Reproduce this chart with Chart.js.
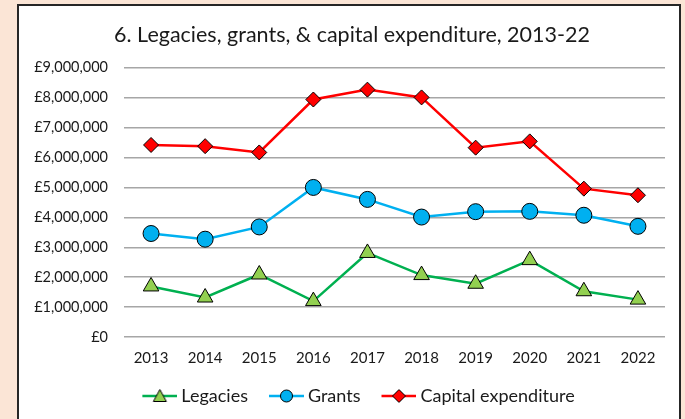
<!DOCTYPE html>
<html>
<head>
<meta charset="utf-8">
<script src="https://cdn.jsdelivr.net/npm/chart.js@4/dist/chart.umd.min.js"></script>
<style>
  html, body { margin: 0; padding: 0; width: 685px; height: 419px; overflow: hidden; background: #FBE5D6; }
  #panel { position: absolute; left: 17px; top: 4px; width: 664px; height: 440px; box-sizing: border-box; border: 2px solid #262626; background: #ffffff; }
  #wrap { position: absolute; left: 0; top: 0; width: 685px; height: 419px; }
</style>
</head>
<body>
<div id="panel"></div>
<div id="wrap"><canvas id="c" width="685" height="419"></canvas></div>
<script>
const years = ['2013','2014','2015','2016','2017','2018','2019','2020','2021','2022'];
const legacies = [1690000, 1320000, 2090000, 1200000, 2810000, 2070000, 1780000, 2570000, 1530000, 1250000];
const grants = [3460000, 3270000, 3680000, 5000000, 4600000, 4010000, 4190000, 4200000, 4070000, 3700000];
const capital = [6420000, 6380000, 6170000, 7940000, 8270000, 8010000, 6330000, 6540000, 4960000, 4740000];
const seriesNames = ['Legacies', 'Grants', 'Capital expenditure'];
const yTicks = [0, 1000000, 2000000, 3000000, 4000000, 5000000, 6000000, 7000000, 8000000, 9000000];
const chartTitle = '6. Legacies, grants, & capital expenditure, 2013-22';

const FONT = 'Lato, "Open Sans", sans-serif';
const TXT = '#1a1a1a';

function legendIcon(lineColor, shape, fill) {
  const cv = document.createElement('canvas');
  cv.width = 53; cv.height = 18;
  const g = cv.getContext('2d');
  const x1 = 18, x2 = 53, cx = 35.5, cy = 9;
  g.strokeStyle = lineColor; g.lineWidth = 2.5;
  g.beginPath(); g.moveTo(x1, cy); g.lineTo(x2, cy); g.stroke();
  g.fillStyle = fill; g.strokeStyle = '#000'; g.lineWidth = 1;
  g.beginPath();
  if (shape === 'triangle') {
    g.moveTo(cx, cy - 6.5); g.lineTo(cx + 6.5, cy + 5.5); g.lineTo(cx - 6.5, cy + 5.5); g.closePath();
  } else if (shape === 'circle') {
    g.arc(cx, cy, 6, 0, Math.PI * 2);
  } else {
    g.moveTo(cx, cy - 6.5); g.lineTo(cx + 6.5, cy); g.lineTo(cx, cy + 6.5); g.lineTo(cx - 6.5, cy); g.closePath();
  }
  g.fill(); g.stroke();
  return cv;
}
const icons = [
  legendIcon('#00B050', 'triangle', '#92D050'),
  legendIcon('#00B0F0', 'circle', '#00B0F0'),
  legendIcon('#FF0000', 'diamond', '#FF0000')
];

new Chart(document.getElementById('c'), {
  type: 'line',
  data: {
    labels: years,
    datasets: [
      { label: seriesNames[0], data: legacies, borderColor: '#00B050', borderWidth: 2.5,
        pointStyle: 'triangle', pointRadius: 9, pointHoverRadius: 9,
        pointBackgroundColor: '#92D050', pointBorderColor: '#000', pointBorderWidth: 1 },
      { label: seriesNames[1], data: grants, borderColor: '#00B0F0', borderWidth: 2.5,
        pointStyle: 'circle', pointRadius: 8, pointHoverRadius: 8,
        pointBackgroundColor: '#00B0F0', pointBorderColor: '#000', pointBorderWidth: 1 },
      { label: seriesNames[2], data: capital, borderColor: '#FF0000', borderWidth: 2.5,
        pointStyle: 'rectRot', pointRadius: 7.5, pointHoverRadius: 7.5,
        pointBackgroundColor: '#FF0000', pointBorderColor: '#000', pointBorderWidth: 1 }
    ]
  },
  options: {
    responsive: false,
    animation: false,
    events: [],
    layout: { padding: { left: 25, right: 6, top: 0, bottom: 4 } },
    scales: {
      x: {
        offset: true,
        grid: { display: false, drawTicks: false },
        border: { display: false },
        ticks: { color: TXT, font: { family: FONT, size: 15 }, padding: 12 }
      },
      y: {
        min: 0, max: 9000000,
        afterBuildTicks: (s) => { s.ticks = yTicks.map(v => ({ value: v })); },
        afterFit: (s) => { s.width = 99; },
        grid: { color: '#A6A6A6', lineWidth: 1.5, drawTicks: false },
        border: { display: false },
        ticks: {
          color: TXT, font: { family: FONT, size: 14.5 }, padding: 16,
          callback: (v) => '£' + Number(v).toLocaleString('en-GB')
        }
      },
      yRight: {
        position: 'right',
        display: true,
        afterFit: (s) => { s.width = 14; },
        grid: { display: false, drawTicks: false },
        border: { display: false },
        ticks: { display: false }
      }
    },
    plugins: {
      title: { display: true, text: chartTitle, color: TXT,
        font: { family: FONT, size: 21.5, weight: 'normal' }, padding: { top: 22, bottom: 20 } },
      legend: {
        position: 'bottom',
        labels: {
          color: TXT, font: { family: FONT, size: 18 }, usePointStyle: true, pointStyleWidth: 43, padding: 8,
          generateLabels: (chart) => {
            const items = Chart.defaults.plugins.legend.labels.generateLabels(chart);
            items.forEach((it, i) => { it.pointStyle = icons[i]; it.lineWidth = 0; });
            return items;
          }
        }
      },
      tooltip: { enabled: false }
    }
  }
});
</script>
</body>
</html>
